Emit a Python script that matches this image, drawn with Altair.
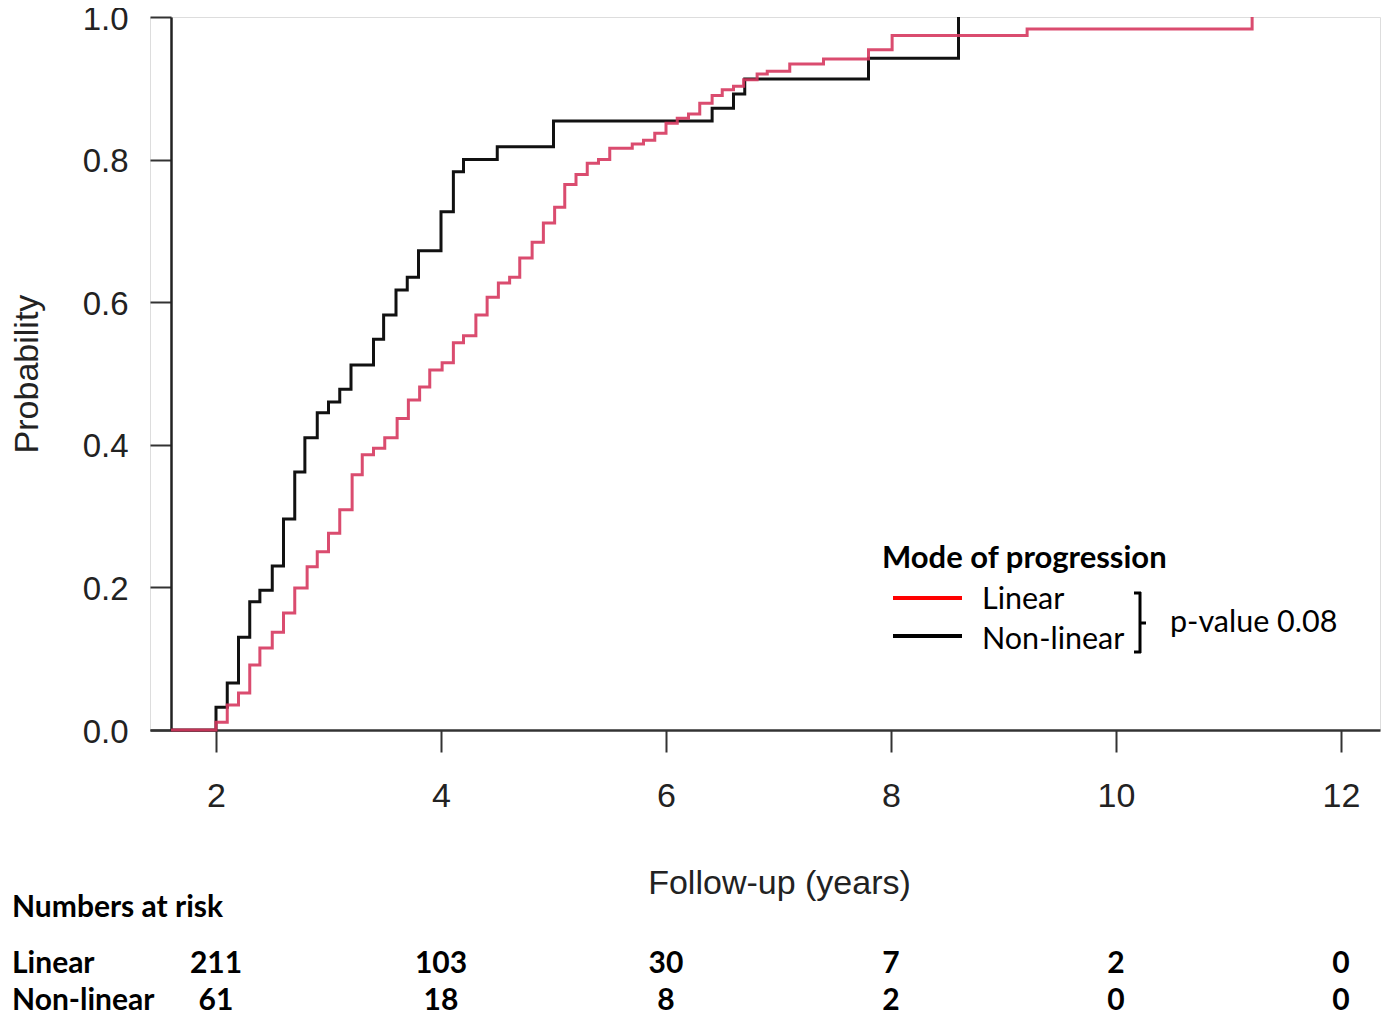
import altair as alt
import pandas as pd

# ---------------- data ----------------
nonlinear_t = [1.6, 2.0, 2.10, 2.20, 2.30, 2.39, 2.50, 2.60, 2.70, 2.79, 2.90, 3.00, 3.10, 3.20,
               3.40, 3.49, 3.60, 3.70, 3.80, 4.00, 4.11, 4.20, 4.50, 5.00, 6.41, 6.60, 6.70,
               7.80, 8.60]
nonlinear_p = [0.0, 0.032, 0.066, 0.13, 0.18, 0.196, 0.23, 0.296, 0.362, 0.41, 0.445, 0.46, 0.478,
               0.512, 0.548, 0.582, 0.617, 0.635, 0.672, 0.727, 0.783, 0.80, 0.818, 0.854, 0.872,
               0.892, 0.913, 0.942, 1.0]

linear_t = [1.6, 2.0, 2.10, 2.20, 2.30, 2.39, 2.50, 2.60, 2.70, 2.81, 2.90, 3.00, 3.10, 3.21, 3.30,
            3.40, 3.50, 3.61, 3.71, 3.81, 3.90, 4.01, 4.11, 4.20, 4.31, 4.41, 4.51, 4.61, 4.70,
            4.81, 4.91, 5.01, 5.10, 5.20, 5.30, 5.40, 5.50, 5.70, 5.80, 5.90, 6.00, 6.10, 6.20,
            6.30, 6.41, 6.50, 6.60, 6.69, 6.81, 6.90, 7.10, 7.40, 7.80, 8.01, 9.21, 11.21]
linear_p = [0.0, 0.011, 0.035, 0.052, 0.091, 0.115, 0.137, 0.164, 0.199, 0.229, 0.250, 0.276,
            0.309, 0.358, 0.386, 0.395, 0.41, 0.437, 0.463, 0.481, 0.505, 0.515, 0.543, 0.553,
            0.582, 0.607, 0.627, 0.635, 0.662, 0.684, 0.711, 0.733, 0.765, 0.779, 0.795, 0.80,
            0.816, 0.822, 0.827, 0.837, 0.851, 0.858, 0.864, 0.879, 0.89, 0.898, 0.903, 0.912,
            0.920, 0.924, 0.934, 0.941, 0.954, 0.974, 0.983, 1.0]

risk_years = [2, 4, 6, 8, 10, 12]
risk_linear = [211, 103, 30, 7, 2, 0]
risk_nonlinear = [61, 18, 8, 2, 0, 0]

x_ticks = [2, 4, 6, 8, 10, 12]
y_ticks = [0.0, 0.2, 0.4, 0.6, 0.8, 1.0]

RED = "#d6395f"
BLACK = "#111111"
AXIS_FONT = "Liberation Sans"
TXT_FONT = "Lato"

nl_df = pd.DataFrame({"t": nonlinear_t, "p": nonlinear_p})
li_df = pd.DataFrame({"t": linear_t, "p": linear_p})
risk_df = pd.DataFrame({"t": risk_years, "lin": risk_linear, "nonlin": risk_nonlinear})

W, H = 1230, 713
X_DOMAIN = [1.41333, 12.34667]

X_AXIS = alt.Axis(
    values=x_ticks, format="d", title="Follow-up (years)",
    tickSize=22, tickWidth=2, tickColor="#333", domainColor="#333", domainWidth=2.5,
    labelFont=AXIS_FONT, labelFontSize=34, labelColor="#222", labelPadding=27,
    titleFont=AXIS_FONT, titleFontSize=34, titleFontWeight="normal", titleColor="#222",
    titlePadding=53, titleX=629, grid=False,
)
X_SCALE = alt.Scale(domain=X_DOMAIN, nice=False, zero=False)

X_ENC = alt.X("t:Q", scale=X_SCALE, axis=X_AXIS)
Y_ENC = alt.Y(
    "p:Q",
    scale=alt.Scale(domain=[0, 1], nice=False),
    axis=alt.Axis(
        values=y_ticks, format=".1f", title="Probability", offset=-21,
        tickSize=21, tickWidth=2, tickColor="#333", domainColor="#222", domainWidth=2.5,
        labelFont=AXIS_FONT, labelFontSize=33, labelColor="#222", labelPadding=22,
        labelOffset=2,
        titleFont=AXIS_FONT, titleFontSize=34, titleFontWeight="normal", titleColor="#222",
        titlePadding=38, grid=False,
    ),
)

black_line = alt.Chart(nl_df).mark_line(
    interpolate="step-after", color=BLACK, strokeWidth=3
).encode(x=X_ENC, y=Y_ENC)

red_line = alt.Chart(li_df).mark_line(
    interpolate="step-after", color=RED, strokeWidth=3, opacity=0.9
).encode(x=X_ENC, y=Y_ENC)


def label(txt, x, y, size=30, weight="normal", align="left", font=TXT_FONT, color="#000",
          baseline="middle"):
    return alt.Chart(pd.DataFrame({"s": [txt]})).mark_text(
        align=align, baseline=baseline, font=font, fontSize=size, fontWeight=weight, color=color
    ).encode(x=alt.value(x), y=alt.value(y), text="s:N")


def seg(x1, x2, y1, y2, color="#000", width=3):
    return alt.Chart(pd.DataFrame({"k": [0]})).mark_rule(color=color, strokeWidth=width).encode(
        x=alt.value(x1), x2=alt.value(x2), y=alt.value(y1), y2=alt.value(y2)
    )


legend_layers = [
    label("Mode of progression", 732, 542, size=31, weight="bold"),
    seg(743, 812, 581, 581, color="#ff0000", width=4),
    seg(743, 812, 619, 619, color="#000000", width=4),
    label("Linear", 832, 583, size=30.5),
    label("Non-linear", 832, 623, size=30.5),
    seg(990, 990, 575, 636, width=3),
    seg(984, 991, 576, 576, width=3),
    seg(984, 991, 635, 635, width=3),
    seg(990, 996, 606, 606, width=3),
    label("p-value 0.08", 1020, 606, size=30.5),
]

RISK_SIZE = 30
risk_layers = [
    label("Numbers at risk", -138, 900, size=RISK_SIZE, weight="bold", baseline="alphabetic"),
    label("Linear", -138, 956, size=RISK_SIZE, weight="bold", baseline="alphabetic"),
    label("Non-linear", -138, 993, size=RISK_SIZE, weight="bold", baseline="alphabetic"),
    alt.Chart(risk_df).mark_text(font=TXT_FONT, fontSize=RISK_SIZE, fontWeight="bold",
                                 color="#000", baseline="alphabetic").encode(
        x=X_ENC, y=alt.value(956), text="lin:Q"),
    alt.Chart(risk_df).mark_text(font=TXT_FONT, fontSize=RISK_SIZE, fontWeight="bold",
                                 color="#000", baseline="alphabetic").encode(
        x=X_ENC, y=alt.value(993), text="nonlin:Q"),
]

chart = alt.layer(black_line, red_line, *legend_layers, *risk_layers).properties(
    width=W, height=H,
    autosize=alt.AutoSizeParams(type="none"),
    padding={"left": 142, "top": 9, "right": 2, "bottom": 281},
).configure_view(stroke=None).configure(background="white")

chart.save("out.html", embed_options={"renderer": "svg", "actions": False})
